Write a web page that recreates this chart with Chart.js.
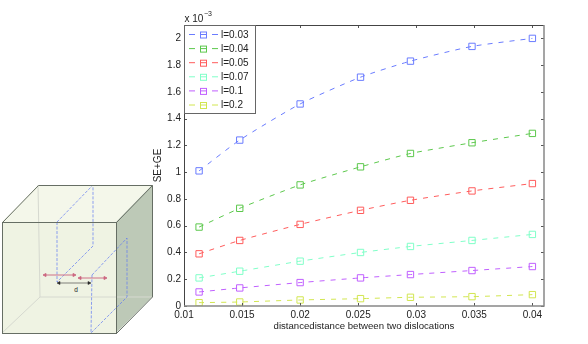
<!DOCTYPE html>
<html>
<head>
<meta charset="utf-8">
<script src="https://cdn.jsdelivr.net/npm/chart.js@4"></script>
<style>
  html, body { margin: 0; padding: 0; background: #fff; }
  #wrap { position: relative; width: 588px; height: 344px; }
  #cube { position: absolute; left: 0; top: 0; }
</style>
</head>
<body>
<div id="wrap">
  <canvas id="chart" width="588" height="344"></canvas>
  <!-- schematic of the box with the two dislocation planes -->
  <svg id="cube" width="170" height="344" viewBox="0 0 170 344">
    <polygon points="2,222 38,185 152,185 116,222" fill="#f4f7ea"/>
    <polygon points="116,222 152,185 152,297 116,333" fill="#bdc9b7"/>
    <rect x="2" y="222" width="114" height="111" fill="#eff3e3"/>
    <g stroke="#d6d9d0" stroke-width="1" fill="none">
      <line x1="38" y1="185" x2="40" y2="297"/>
      <line x1="40" y1="297" x2="152" y2="297"/>
      <line x1="40" y1="297" x2="2" y2="333"/>
    </g>
    <g stroke="#5f78f2" stroke-width="0.7" stroke-dasharray="3,1.5" fill="none">
      <polyline points="57,222 93,185 93,246 57,282 57,222"/>
      <polyline points="92,275 127,238 127,297 91,333 92,275"/>
    </g>
    <g stroke="#666e64" stroke-width="1" fill="none">
      <rect x="2.5" y="222.5" width="114" height="111"/>
      <polyline points="2.5,222.5 38.5,185.5 152.5,185.5 152.5,297 116.5,333.5"/>
      <line x1="116.5" y1="222.5" x2="152.5" y2="185.5"/>
    </g>
    <g stroke="#cf7088" stroke-width="1" fill="#c8566e">
      <line x1="45" y1="275" x2="74" y2="275"/>
      <polygon points="43,275 46,273.5 46,276.5"/>
      <polygon points="76,275 73,273.5 73,276.5"/>
      <line x1="80" y1="278" x2="105" y2="278"/>
      <polygon points="78,278 81,276.5 81,279.5"/>
      <polygon points="107,278 104,276.5 104,279.5"/>
    </g>
    <g stroke="#333" stroke-width="0.6" fill="#222">
      <line x1="58" y1="283" x2="90" y2="283"/>
      <polygon points="57,283 60,281.5 60,284.5"/>
      <polygon points="91,283 88,281.5 88,284.5"/>
    </g>
    <text x="76" y="291.5" font-family="Liberation Sans" font-size="6.5" text-anchor="middle" fill="#222">d</text>
  </svg>
</div>
<script>
// Donnees
const distances = [0.0113, 0.0148, 0.02, 0.0252, 0.0295, 0.0348, 0.04];
const seriesNames = ['l=0.03', 'l=0.04', 'l=0.05', 'l=0.07', 'l=0.1', 'l=0.2'];
const l003 = [1.01, 1.24, 1.51, 1.71, 1.83, 1.94, 2.0];
const l004 = [0.59, 0.73, 0.905, 1.04, 1.14, 1.22, 1.29];
const l005 = [0.39, 0.49, 0.61, 0.715, 0.79, 0.86, 0.915];
const l007 = [0.21, 0.26, 0.335, 0.40, 0.445, 0.49, 0.535];
const l01 = [0.105, 0.135, 0.175, 0.21, 0.235, 0.265, 0.295];
const l02 = [0.025, 0.03, 0.045, 0.055, 0.065, 0.07, 0.085];
const seriesValues = [l003, l004, l005, l007, l01, l02];
const seriesColors = ['#6a7cff', '#5cc84c', '#ff5c5c', '#80ffc8', '#c060ff', '#d2e650'];

const FONT = '"Liberation Sans", sans-serif';
const TEXT = '#222';

// Cadre, graduations interieures, exposant et legende
const framePlugin = {
    id: 'frame',
    afterDraw(chart) {
        const ctx = chart.ctx;
        const { left, right, top, bottom } = chart.chartArea;
        const xs = chart.scales.x, ys = chart.scales.y;
        ctx.save();

        ctx.strokeStyle = '#555';
        ctx.lineWidth = 1;
        ctx.beginPath();
        xs.ticks.forEach(t => {
            const px = Math.round(xs.getPixelForValue(t.value)) + 0.5;
            ctx.moveTo(px, bottom); ctx.lineTo(px, bottom - 3);
            ctx.moveTo(px, top); ctx.lineTo(px, top + 3);
        });
        ys.ticks.forEach(t => {
            const py = Math.round(ys.getPixelForValue(t.value)) + 0.5;
            ctx.moveTo(left, py); ctx.lineTo(left + 3, py);
            ctx.moveTo(right, py); ctx.lineTo(right - 3, py);
        });
        ctx.stroke();

        ctx.strokeStyle = '#444';
        ctx.beginPath();
        ctx.moveTo(left + 0.5, bottom); ctx.lineTo(left + 0.5, top + 0.5); ctx.lineTo(right, top + 0.5);
        ctx.stroke();
        ctx.strokeStyle = '#888';
        ctx.lineWidth = 1.5;
        ctx.beginPath();
        ctx.moveTo(right, top); ctx.lineTo(right, bottom); ctx.lineTo(left, bottom);
        ctx.stroke();

        // x 10^-3
        ctx.fillStyle = TEXT;
        ctx.textBaseline = 'alphabetic';
        ctx.textAlign = 'left';
        ctx.font = '10px ' + FONT;
        ctx.fillText('x 10', left + 0.5, 22);
        ctx.font = '7px ' + FONT;
        ctx.fillText('\u22123', left + 20, 16);

        // legende
        const boxW = 71, boxH = 88, rowH = 14.1;
        ctx.fillStyle = '#fff';
        ctx.fillRect(left, top, boxW, boxH);
        ctx.strokeStyle = '#666';
        ctx.lineWidth = 1;
        ctx.strokeRect(left + 0.5, top + 0.5, boxW, boxH);
        seriesNames.forEach((name, i) => {
            const y = top + 9.5 + i * rowH;
            const color = seriesColors[i];
            ctx.strokeStyle = color;
            ctx.setLineDash([6, 5.5]);
            ctx.beginPath();
            ctx.moveTo(left + 5, y); ctx.lineTo(left + 34, y);
            ctx.stroke();
            ctx.setLineDash([]);
            ctx.strokeRect(left + 16.5, y - 2.5, 6, 6);
            ctx.fillStyle = TEXT;
            ctx.font = '10px ' + FONT;
            ctx.textBaseline = 'middle';
            ctx.fillText(name, left + 37, y + 0.5);
        });
        ctx.restore();
    }
};

new Chart(document.getElementById('chart').getContext('2d'), {
    type: 'line',
    data: {
        labels: distances,
        datasets: seriesNames.map((name, i) => ({
            label: name,
            data: distances.map((d, k) => ({ x: d, y: seriesValues[i][k] })),
            borderColor: seriesColors[i],
            borderWidth: 1,
            borderDash: [5, 6],
            fill: false,
            tension: 0.2,
            pointStyle: 'rect',
            pointRadius: 4.5,
            pointBorderWidth: 1,
            pointBorderColor: seriesColors[i],
            pointBackgroundColor: 'transparent'
        }))
    },
    options: {
        responsive: false,
        animation: false,
        layout: { padding: { left: 152, right: 44, top: 25, bottom: 12 } },
        plugins: { legend: { display: false }, tooltip: { enabled: false } },
        scales: {
            x: {
                type: 'linear',
                min: 0.01,
                max: 0.041,
                border: { display: false },
                grid: { display: false, drawTicks: false },
                ticks: {
                    stepSize: 0.005,
                    includeBounds: false,
                    maxRotation: 0,
                    padding: 3,
                    color: TEXT,
                    font: { family: FONT, size: 10 },
                    callback: (value) => String(+value.toFixed(3))
                },
                title: {
                    display: true,
                    text: 'distancedistance between two dislocations',
                    color: TEXT,
                    padding: { top: 0, bottom: 0 },
                    font: { family: FONT, size: 9.6 }
                },
                afterFit: (scale) => { scale.height = 26; }
            },
            y: {
                min: 0,
                max: 2.1,
                border: { display: false },
                grid: { display: false, drawTicks: false },
                ticks: {
                    stepSize: 0.2,
                    includeBounds: false,
                    padding: 3,
                    color: TEXT,
                    font: { family: FONT, size: 10 },
                    callback: (value) => String(+value.toFixed(1))
                },
                title: {
                    display: true,
                    text: 'SE+GE',
                    color: TEXT,
                    padding: { top: 0, bottom: 0 },
                    font: { family: FONT, size: 10 }
                },
                afterFit: (scale) => { scale.width = 32; }
            }
        }
    },
    plugins: [framePlugin]
});
</script>
</body>
</html>
